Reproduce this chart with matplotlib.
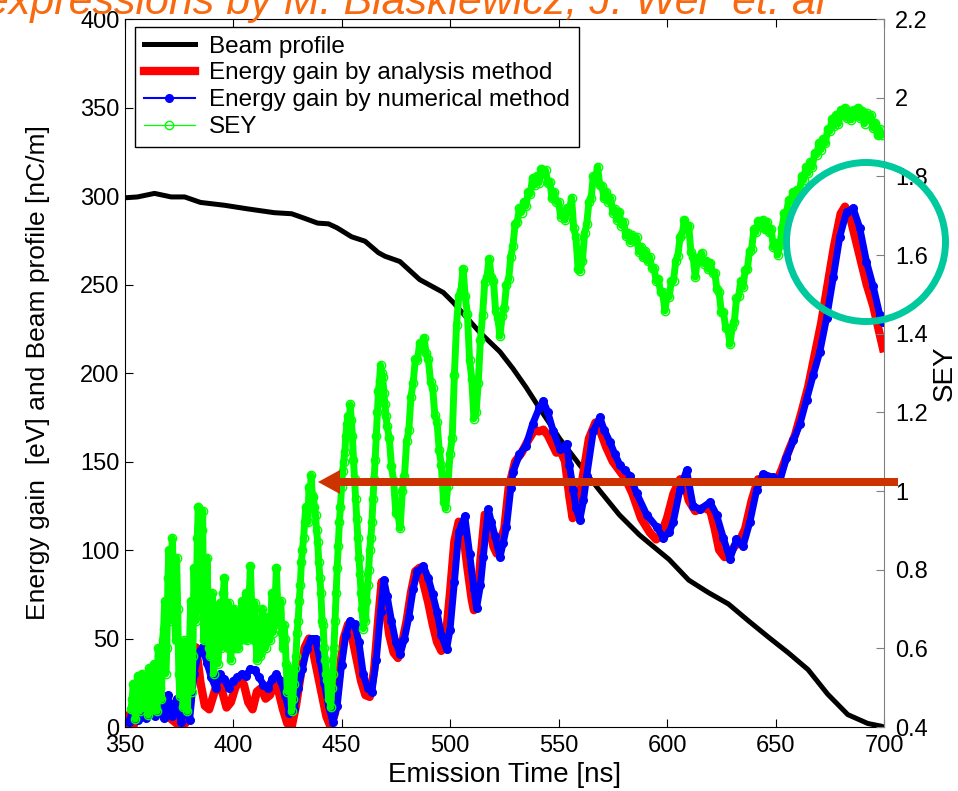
import numpy as np
import matplotlib
matplotlib.use("Agg")
import matplotlib.pyplot as plt
from matplotlib.patches import Polygon, Ellipse

plt.rcParams['font.family'] = ['Liberation Sans', 'DejaVu Sans']

# beam profile [nC/m]
beam_t = [350, 356, 363.8, 371.5, 377.7, 385, 396, 407, 419, 427, 433, 439, 444, 448,
          454.6, 460.8, 467, 470, 476.9, 486, 496.9, 501.4, 513.7, 523, 529, 535,
          541.5, 550.6, 559.8, 569, 578, 587.3, 591.7, 600.9, 610, 619, 628.3,
          637.5, 646.7, 656, 665, 674, 683.3, 692.5, 698.6, 700]
beam_v = [299, 299.5, 301.5, 299.5, 299.5, 296.4, 294.8, 292.7, 290.6, 290, 287.4,
          284.7, 284.3, 282, 277, 274.5, 268, 266, 263, 252.8, 245.5, 240, 223, 212,
          202.5, 192, 179.6, 162.8, 148, 133.5, 119.9, 108.5, 104, 94.7, 83, 76, 69.5,
          60, 50.8, 41.8, 32.4, 18.6, 7, 2, 0.5, 0]

# energy gain, analysis method [eV]
ana_t = [350.5, 352, 354, 356, 358, 360, 362, 364, 366, 368, 370, 372, 374, 376, 378,
         380, 382, 383, 385, 387, 389, 391, 393, 395, 397, 399, 401, 403, 405, 407,
         409, 411, 413, 415, 417, 419, 421, 423, 425, 427, 429, 431, 433, 435, 437,
         439, 441, 443, 445, 447, 449, 451, 453, 455, 457, 459, 461, 463, 465, 467,
         468.5, 470, 472, 474, 476, 478, 480, 482, 484, 486, 488, 490, 492, 494, 496,
         498, 500, 502, 504, 506, 508, 510, 511, 513, 514, 516, 518, 520, 521.5, 523,
         525, 527, 530, 533, 536, 539, 541, 543, 545, 547, 549, 551, 553, 555, 556.5,
         558, 561, 564, 567, 569, 572, 575, 578, 581, 584, 588, 592, 595, 597, 600,
         603, 606, 608, 610, 613, 617, 620, 622, 624, 626.5, 629, 631, 633, 636, 639,
         642, 645, 648, 651, 653, 656, 659, 662, 665, 668, 671, 674, 677, 680, 682,
         684, 686, 689, 692, 695, 698, 699.5]
ana_v = [6, 2, 0, 8, 12, 18, 14, 20, 10, 16, 6, 4, 2, 3, 2,
         10, 40, 45, 25, 12, 10, 18, 26, 20, 11, 14, 22, 27, 24, 14,
         10, 20, 22, 16, 18, 24, 20, 10, 2, 0, 12, 28, 45, 50, 42,
         30, 18, 6, 0, 8, 30, 50, 58, 50, 38, 26, 18, 17, 32, 62,
         82, 70, 52, 42, 39, 48, 60, 76, 88, 90, 80, 70, 58, 48, 43,
         50, 76, 105, 116, 110, 90, 72, 66, 78, 94, 120, 114, 102, 98, 104,
         112, 135, 150, 155, 162, 168, 167, 168, 165, 160, 155, 156, 150, 130, 118,
         125, 140, 163, 172, 168, 158, 150, 145, 140, 132, 118, 110, 106, 108, 118,
         132, 140, 138, 128, 122, 124, 122, 112, 100, 96, 98, 102, 104, 112, 128,
         140, 140, 139, 140, 146, 156, 165, 178, 192, 210, 228, 250, 272, 290, 294,
         290, 280, 265, 250, 238, 222, 214]

# energy gain, numerical method [eV]
num_t = [352, 354, 356, 358, 360, 362, 364, 366, 368, 370, 372, 374, 376, 378, 380,
         382, 384, 386, 388, 390, 392, 394, 396, 398, 400, 402, 404, 406, 408, 410,
         412, 414, 416, 418, 420, 422, 424, 426, 428, 430, 432, 434, 436, 438, 440,
         442, 444, 446, 448, 450, 452, 454, 456, 458, 460, 462, 464, 466, 468, 469.5,
         471, 473, 475, 477, 479, 481, 483, 485, 487.7, 490, 492, 494, 496, 498.4, 500,
         502, 504, 506.8, 509, 511, 512.2, 514, 515.3, 517.6, 519, 520.7, 523, 524.5,
         526, 528, 529, 532, 535, 538, 541, 543, 545, 547.6, 550.6, 553.7, 555, 556.8,
         558, 559.8, 561.5, 563, 566, 569, 571, 573.7, 576, 578.3, 580.5, 582.9, 586,
         590.6, 595.2, 598.3, 601, 602.9, 605.9, 609, 612, 615.2, 619.8, 622.8, 625.9,
         629, 632, 635, 638.2, 641.3, 644.3, 648.9, 652, 655, 658.2, 661.2, 664.3,
         667.4, 670.4, 673.5, 676.6, 679.6, 682.7, 685.8, 688.8, 691.9, 695, 698, 699.6]
num_v = [3, 10, 4, 14, 5, 16, 6, 15, 5, 18, 6, 16, 3, 12, 4,
         30, 42, 45, 36, 28, 22, 30, 27, 22, 26, 28, 30, 29, 33, 32,
         28, 24, 22, 27, 30, 26, 18, 8, 10, 22, 33, 44, 50, 50, 38,
         25, 12, 3, 12, 35, 52, 60, 58, 48, 30, 22, 20, 38, 65, 83,
         74, 60, 48, 41, 50, 62, 78, 88, 91, 84, 75, 65, 52, 44, 55,
         82, 110, 119, 98, 78, 67, 80, 96, 123, 116, 108, 96, 104,
         113, 135, 144, 154, 159, 171, 180, 184, 178, 167, 157, 160, 148, 134,
         124, 117, 128, 142, 167, 175, 168, 161, 154, 148, 145, 142, 132,
         120, 113, 107, 110, 116, 134, 145, 125, 123, 127, 120, 107,
         95, 106, 102, 116, 134, 143, 141, 139, 152, 162, 171, 185,
         199, 212, 231, 254, 277, 291, 293, 282, 263, 249, 233, 229]

# SEY, two samples per ns from 353 to 470.5 ns
sey_early = [0.445, 0.47, 0.51, 0.46, 0.42, 0.50, 0.53, 0.47, 0.44, 0.52,
             0.535, 0.47, 0.45, 0.53, 0.50, 0.47, 0.43, 0.55, 0.52, 0.46,
             0.445, 0.56, 0.535, 0.47, 0.44, 0.60, 0.58, 0.50, 0.47, 0.62,
             0.65, 0.72, 0.535, 0.60, 0.78, 0.85, 0.67, 0.76, 0.88, 0.80,
             0.715, 0.62, 0.83, 0.70, 0.535, 0.48, 0.60, 0.58, 0.45, 0.62,
             0.535, 0.48, 0.44, 0.58, 0.625, 0.72, 0.49, 0.58, 0.805, 0.70,
             0.67, 0.88, 0.96, 0.70, 0.76, 0.90, 0.95, 0.62, 0.715, 0.68,
             0.83, 0.72, 0.60, 0.58, 0.67, 0.74, 0.535, 0.62, 0.625, 0.70,
             0.56, 0.62, 0.715, 0.60, 0.65, 0.74, 0.78, 0.64, 0.67, 0.60,
             0.715, 0.62, 0.57, 0.68, 0.65, 0.70, 0.60, 0.66, 0.69, 0.60,
             0.62, 0.68, 0.72, 0.64, 0.625, 0.70, 0.74, 0.62, 0.67, 0.74,
             0.81, 0.72, 0.66, 0.62, 0.715, 0.62, 0.57, 0.66, 0.65, 0.58,
             0.59, 0.70, 0.67, 0.62, 0.60, 0.66, 0.68, 0.64, 0.62, 0.68,
             0.74, 0.64, 0.67, 0.74, 0.805, 0.72, 0.69, 0.66, 0.72, 0.64,
             0.60, 0.66, 0.625, 0.56, 0.49, 0.55, 0.535, 0.50, 0.44, 0.47,
             0.51, 0.55, 0.58, 0.64, 0.67, 0.72, 0.76, 0.82, 0.85, 0.88,
             0.92, 0.96, 0.96, 0.92, 1.01, 0.98, 1.04, 0.99, 0.985, 0.96,
             0.94, 0.90, 0.87, 0.82, 0.78, 0.74, 0.67, 0.66, 0.60, 0.57,
             0.535, 0.52, 0.47, 0.50, 0.45, 0.50, 0.535, 0.60, 0.67, 0.74,
             0.805, 0.86, 0.92, 0.96, 1.01, 1.05, 1.075, 1.10, 1.14, 1.17,
             1.19, 1.16, 1.22, 1.18, 1.14, 1.08, 1.03, 0.98, 0.93, 0.88,
             0.83, 0.79, 0.74, 0.70, 0.65, 0.68, 0.67, 0.72, 0.76, 0.80,
             0.85, 0.88, 0.92, 0.98, 1.03, 1.08, 1.14, 1.20, 1.255, 1.28,
             1.32, 1.30, 1.29, 1.25, 1.22, 1.19]
# SEY, one sample per ns from 471 ns
sey_late = [1.165, 1.135,
            1.063, 1.026, 0.944, 0.94, 0.905, 1.0, 1.038, 1.126, 1.154, 1.24,
            1.275, 1.335, 1.333, 1.376, 1.364, 1.39, 1.35, 1.335, 1.278, 1.261,
            1.194, 1.175, 1.105, 1.065, 0.973, 0.956, 1.014, 1.095, 1.135, 1.295,
            1.423, 1.496, 1.509, 1.565, 1.495, 1.45, 1.333, 1.286, 1.184, 1.2,
            1.275, 1.385, 1.448, 1.531, 1.544, 1.59, 1.545, 1.535, 1.458, 1.441,
            1.394, 1.445, 1.465, 1.525, 1.538, 1.596, 1.624, 1.68, 1.685, 1.72,
            1.708, 1.736, 1.724, 1.76, 1.755, 1.795, 1.778, 1.801, 1.784, 1.82,
            1.815, 1.815, 1.783, 1.786, 1.744, 1.76, 1.735, 1.735, 1.698, 1.706,
            1.689, 1.72, 1.715, 1.745, 1.668, 1.646, 1.564, 1.56, 1.585, 1.655,
            1.678, 1.736, 1.744, 1.8, 1.795, 1.825, 1.778, 1.776, 1.744, 1.76,
            1.735, 1.745, 1.708, 1.716, 1.689, 1.71, 1.675, 1.685, 1.648, 1.656,
            1.634, 1.65, 1.635, 1.645, 1.608, 1.621, 1.594, 1.61, 1.585, 1.595,
            1.568, 1.566, 1.534, 1.54, 1.505, 1.505, 1.458, 1.496, 1.494, 1.535,
            1.535, 1.585, 1.598, 1.646, 1.654, 1.69, 1.675, 1.675, 1.608, 1.596,
            1.544, 1.59, 1.595, 1.605, 1.578, 1.586, 1.564, 1.58, 1.555, 1.555,
            1.513, 1.506, 1.454, 1.455, 1.415, 1.415, 1.373, 1.416, 1.429, 1.49,
            1.495, 1.535, 1.518, 1.561, 1.564, 1.61, 1.615, 1.665, 1.658, 1.686,
            1.674, 1.69, 1.665, 1.685, 1.658, 1.666, 1.62, 1.63, 1.60, 1.625,
            1.668, 1.706, 1.704, 1.74, 1.735, 1.76, 1.743, 1.766, 1.754, 1.8,
            1.79, 1.825, 1.808, 1.836, 1.824, 1.86, 1.855, 1.885, 1.868, 1.896,
            1.884, 1.92, 1.915, 1.945, 1.928, 1.956, 1.934, 1.97, 1.955, 1.975,
            1.948, 1.966, 1.944, 1.97, 1.955, 1.975, 1.948, 1.966, 1.934, 1.96,
            1.945, 1.955, 1.923, 1.936, 1.904, 1.92, 1.905]
sey_t = np.concatenate([353 + 0.5 * np.arange(len(sey_early)),
                        471 + np.arange(len(sey_late))])
sey = sey_early + sey_late

x_ticks = [350, 400, 450, 500, 550, 600, 650, 700]
left_ticks = [0, 50, 100, 150, 200, 250, 300, 350, 400]
right_ticks = [0.4, 0.6, 0.8, 1.0, 1.2, 1.4, 1.6, 1.8, 2.0, 2.2]

fig = plt.figure(figsize=(9.58, 7.91), dpi=100)
ax = fig.add_axes([0.130, 0.0809, 0.7928, 0.895])
ax2 = ax.twinx()

h1, = ax.plot(beam_t, beam_v, color='black', lw=3.6, label='Beam profile')
h2, = ax.plot(ana_t, ana_v, color='red', lw=6, label='Energy gain by analysis method')
ax.plot(num_t, num_v, color='blue', lw=5)
h3, = ax.plot(num_t, num_v, '-o', color='blue', lw=1.5, ms=5.5,
              label='Energy gain by numerical method')
# dense centre of the SEY scatter band
ax2.plot(sey_t, sey, color='#00ff00', lw=5)
h4, = ax2.plot(sey_t, sey, '-o', color='#00ff00', lw=0.9, ms=6, mfc='none',
               mew=1.0, label='SEY')

ax.set_xlim(350, 700)
ax.set_ylim(0, 400)
ax2.set_ylim(0.4, 2.2)
ax.set_xticks(x_ticks)
ax.set_yticks(left_ticks)
ax2.set_yticks(right_ticks)
ax2.set_yticklabels(['%g' % v for v in right_ticks])

ax.tick_params(direction='in', length=6, labelsize=17, top=True, right=False)
ax.tick_params(axis='x', pad=6)
ax2.tick_params(direction='in', length=6, labelsize=17, color='#808080', pad=8)
ax.spines['right'].set_visible(False)
for s in ['left', 'top', 'bottom']:
    ax2.spines[s].set_visible(False)
ax2.spines['right'].set_color('#808080')

ax.set_xlabel('Emission Time [ns]', fontsize=20, labelpad=3)
ax.set_ylabel('Energy gain  [eV] and Beam profile [nC/m]', fontsize=19, labelpad=22)
ax2.set_ylabel('SEY', fontsize=20, labelpad=3)

leg = ax2.legend(handles=[h1, h2, h3, h4], loc='upper left',
                 bbox_to_anchor=(0.0138, 0.9887), borderaxespad=0, fontsize=17.5,
                 fancybox=False, framealpha=1, edgecolor='black', numpoints=1,
                 handlelength=2.1, handletextpad=0.6, borderpad=0.35,
                 labelspacing=0.2)
leg.get_frame().set_linewidth(1.0)

# annotations drawn on top (pixel positions / 100 -> inches)
arrow = Polygon(np.array([(898, 305), (340, 305), (340, 297), (318, 309),
                          (340, 321), (340, 313), (898, 313)]) / 100.0,
                closed=True, facecolor='#cc3300', edgecolor='none',
                transform=fig.dpi_scale_trans)
fig.add_artist(arrow)
ring = Ellipse((8.66, 5.49), 1.59, 1.59, fill=False, edgecolor='#00c99e', lw=5,
               transform=fig.dpi_scale_trans)
fig.add_artist(ring)

fig.text(-0.0157, 1 - 14 / 791, 'expressions by M. Blaskiewicz, J. Wei  et. al',
         color='#f96a10', style='italic', fontsize=31, va='baseline')

fig.savefig('out.png', dpi=100)
